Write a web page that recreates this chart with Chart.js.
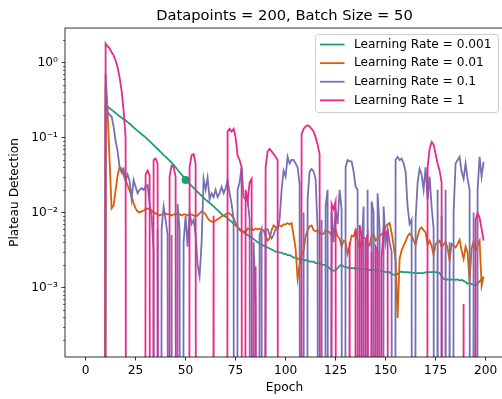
<!DOCTYPE html>
<html>
<head>
<meta charset="utf-8">
<script src="https://cdn.jsdelivr.net/npm/chart.js@4.4.1/dist/chart.umd.min.js"></script>
<style>
  html, body { margin: 0; padding: 0; background: #fff; overflow: hidden; }
  canvas { display: block; }
</style>
</head>
<body>
<canvas id="grafico" width="506" height="399"></canvas>
<script>
// epocas 0..199 (as 10 primeiras sao zero em todas as series)
const epocas = Array.from({length: 200}, (_, i) => i);

const lr0001 = [
  0, 0, 0, 0, 0, 0, 0, 0, 0, 0,
  0.270, 0.257, 0.245, 0.233, 0.222, 0.211, 0.201, 0.191, 0.182, 0.175,
  0.169, 0.160, 0.152, 0.144, 0.136, 0.129, 0.122, 0.116, 0.110, 0.105,
  0.100, 0.094, 0.089, 0.084, 0.079, 0.074, 0.070, 0.066, 0.062, 0.058,
  0.0555, 0.052, 0.049, 0.046, 0.043, 0.040, 0.037, 0.0345, 0.032, 0.0295,
  0.0270, 0.0255, 0.0240, 0.0226, 0.0212, 0.0199, 0.0187, 0.0176, 0.0166, 0.0157,
  0.0148, 0.0141, 0.0134, 0.0127, 0.0120, 0.0113, 0.0107, 0.0101, 0.0095, 0.0090,
  0.0088, 0.0084, 0.0079, 0.0075, 0.0071, 0.0067, 0.0063, 0.0060, 0.0057, 0.0054,
  0.0052, 0.0050, 0.0048, 0.0046, 0.0044, 0.0042, 0.0040, 0.0039, 0.0037, 0.0036,
  0.0035, 0.0034, 0.0033, 0.0032, 0.0031, 0.0030, 0.0030, 0.0029, 0.0029, 0.0028,
  0.0028, 0.0027, 0.0027, 0.0026, 0.0025, 0.0025, 0.0024, 0.0024, 0.0024, 0.0023,
  0.0023, 0.0023, 0.0022, 0.0022, 0.0022, 0.0021, 0.0021, 0.0021, 0.0020, 0.0020,
  0.0020, 0.0019, 0.0018, 0.0017, 0.00166, 0.0017, 0.0018, 0.00195, 0.0020, 0.0019,
  0.00185, 0.00185, 0.0018, 0.0018, 0.0018, 0.0018, 0.00178, 0.00176, 0.00175, 0.00175,
  0.00176, 0.00175, 0.0017, 0.0017, 0.0017, 0.0017, 0.00168, 0.00166, 0.00165, 0.00163,
  0.0016, 0.0016, 0.0016, 0.0015, 0.00148, 0.00146, 0.0015, 0.0016, 0.00162, 0.0016,
  0.0016, 0.0016, 0.00158, 0.00157, 0.00156, 0.00155, 0.00155, 0.00155, 0.00155, 0.00156,
  0.00158, 0.0016, 0.0016, 0.0016, 0.0016, 0.0016, 0.00158, 0.00155, 0.0014, 0.0013,
  0.00127, 0.00128, 0.00126, 0.00128, 0.00127, 0.00126, 0.00128, 0.00124, 0.00126, 0.00122,
  0.00118, 0.00112, 0.00115, 0.0011, 0.00108, 0.00106, 0.00112, 0.0012, 0.0013, 0.00137
];

const lr001 = [
  0, 0, 0, 0, 0, 0, 0, 0, 0, 0,
  0.49, 0.215, 0.049, 0.0113, 0.0124, 0.0196, 0.0311, 0.0398, 0.0386, 0.0311,
  0.0267, 0.0229, 0.0196, 0.0163, 0.0132, 0.0113, 0.0103, 0.0100, 0.0103, 0.0106,
  0.0110, 0.0113, 0.0110, 0.0106, 0.0100, 0.0097, 0.0094, 0.0091, 0.0094, 0.0094,
  0.0097, 0.0094, 0.0094, 0.0091, 0.0094, 0.0094, 0.0097, 0.0094, 0.0091, 0.0094,
  0.0094, 0.0091, 0.0094, 0.0094, 0.0091, 0.0089, 0.0091, 0.0097, 0.0103, 0.0100,
  0.0094, 0.0084, 0.0078, 0.0076, 0.0074, 0.0078, 0.0081, 0.0084, 0.0089, 0.0091,
  0.0094, 0.0097, 0.0097, 0.0091, 0.0084, 0.0072, 0.0063, 0.0058, 0.0056, 0.0056,
  0.0054, 0.0061, 0.0059, 0.0061, 0.0058, 0.0061, 0.0059, 0.0061, 0.0059, 0.0058,
  0.0049, 0.0042, 0.0045, 0.0058, 0.0067, 0.0063, 0.0065, 0.0067, 0.0065, 0.0069,
  0.0069, 0.0072, 0.0069, 0.0072, 0.0049, 0.0033, 0.0013, 0.0020, 0.0027, 0.0031,
  0.0048, 0.0058, 0.0065, 0.0067, 0.0058, 0.0056, 0.0058, 0.0054, 0.0051, 0.0052,
  0.0058, 0.0056, 0.0054, 0.0049, 0.0054, 0.0058, 0.0048, 0.0045, 0.0035, 0.0042,
  0.0040, 0.0028, 0.0036, 0.0049, 0.0048, 0.0058, 0.0042, 0.0033, 0.0042, 0.0046,
  0.0045, 0.0038, 0.0036, 0.0049, 0.0051, 0.0042, 0.0045, 0.0048, 0.0051, 0.0054,
  0.0065, 0.0069, 0.0072, 0.0054, 0.0036, 0.0023, 0.00039, 0.0024, 0.0031, 0.0036,
  0.0041, 0.0048, 0.0052, 0.0049, 0.0042, 0.0037, 0.0048, 0.0059, 0.0063, 0.0058,
  0.0054, 0.0037, 0.0042, 0.0036, 0.0027, 0.0038, 0.0040, 0.0042, 0.0035, 0.0037,
  0.0041, 0.0033, 0.0023, 0.0038, 0.0036, 0.0034, 0.0038, 0.0043, 0.0031, 0.0024,
  0.0035, 0.0029, 0.0012, 0.0033, 0.0041, 0.0031, 0.0036, 0.0042, 0.00105, 0.0014
];

const lr01 = [
  0, 0, 0, 0, 0, 0, 0, 0, 0, 0,
  0.7, 0.215, 0.2, 0.19, 0.14, 0.09, 0.065, 0.04, 0.034, 0.038,
  0.027, 0.032, 0.026, 0.015, 0.027, 0.022, 0.018, 0.02, 0.021, 0.02,
  0.022, 0.023, 0.013, 0.009, 0.003, 0, 0.006, 0, 0.006, 0.012,
  0.008, 0.005, 0, 0.005, 0, 0, 0.013, 0.006, 0, 0.004,
  0.009, 0.0035, 0.01, 0.007, 0.008, 0.005, 0.002, 0.0014, 0.004, 0.028,
  0.02, 0.029, 0.015, 0.018, 0.016, 0.02, 0.016, 0.018, 0.022, 0.018,
  0.021, 0.027, 0.018, 0.013, 0.008, 0, 0.02, 0.025, 0.04, 0.016,
  0.015, 0.015, 0.008, 0, 0.004, 0.0006, 0, 0.005, 0.006, 0,
  0.006, 0.006, 0.005, 0.0045, 0.005, 0.006, 0.006, 0.008, 0.02, 0.036,
  0.03, 0.055, 0.045, 0.05, 0.05, 0.045, 0.04, 0.024, 0, 0.01,
  0, 0.015, 0.035, 0.038, 0.035, 0.028, 0.006, 0, 0.008, 0,
  0.012, 0.02, 0, 0.01, 0.004, 0.011, 0.007, 0.02, 0.011, 0,
  0.04, 0.05, 0.048, 0.048, 0.035, 0.022, 0.02, 0, 0.003, 0.012,
  0, 0.02, 0, 0.014, 0.01, 0, 0.018, 0.006, 0, 0.012,
  0.004, 0.006, 0.004, 0.003, 0, 0.05, 0.055, 0.05, 0.052, 0.045,
  0.035, 0.012, 0.007, 0.008, 0, 0.008, 0.025, 0.038, 0.032, 0.02,
  0.04, 0.015, 0.03, 0.012, 0.006, 0, 0.02, 0, 0.009, 0,
  0.02, 0, 0.004, 0, 0.01, 0.045, 0.05, 0.055, 0.035, 0.028,
  0.045, 0.028, 0.02, 0, 0.01, 0, 0.02, 0.055, 0.03, 0.047
];

const lr1 = [
  0, 0, 0, 0, 0, 0, 0, 0, 0, 0,
  1.79, 1.63, 1.54, 1.36, 1.24, 1.06, 0.86, 0.63, 0.42, 0.23,
  0.10, 0, 0, 0, 0, 0, 0, 0, 0, 0,
  0.032, 0.036, 0.031, 0, 0.05, 0.052, 0.045, 0, 0, 0,
  0, 0, 0.03, 0.042, 0.04, 0.03, 0, 0, 0, 0,
  0, 0, 0.04, 0.058, 0.06, 0.045, 0, 0, 0, 0,
  0, 0, 0, 0, 0.009, 0, 0, 0, 0, 0,
  0, 0.12, 0.13, 0.12, 0.13, 0.1, 0.057, 0.05, 0.04, 0,
  0.02, 0.014, 0.025, 0.028, 0, 0.0019, 0, 0, 0, 0,
  0.04, 0.065, 0.07, 0.065, 0.06, 0.055, 0.05, 0, 0, 0,
  0, 0, 0, 0, 0, 0, 0, 0, 0.11, 0.13,
  0.14, 0.145, 0.14, 0.13, 0.12, 0.1, 0.08, 0.06, 0, 0,
  0, 0, 0, 0.013, 0.011, 0.014, 0, 0, 0, 0,
  0, 0, 0.004, 0, 0, 0.006, 0, 0.0068, 0.005, 0,
  0.004, 0.005, 0, 0.003, 0, 0.0035, 0.003, 0, 0.0025, 0.006,
  0.005, 0.0055, 0, 0, 0, 0, 0, 0, 0, 0,
  0, 0, 0, 0, 0, 0, 0, 0, 0, 0,
  0, 0.04, 0.07, 0.087, 0.08, 0.06, 0.045, 0.036, 0.025, 0,
  0, 0, 0, 0, 0, 0, 0, 0, 0, 0.0006,
  0, 0, 0, 0, 0, 0.008, 0.0098, 0.0085, 0.006, 0.0042
];

const rotulos = ['Learning Rate = 0.001', 'Learning Rate = 0.01', 'Learning Rate = 0.1', 'Learning Rate = 1'];
const cores = ['#1b9e77', '#d95f02', '#7570b3', '#e7298a'];
const valores = [lr0001, lr001, lr01, lr1];
const epocaMarcada = 50; // ponto destacado na curva verde

const xTicks = [0, 25, 50, 75, 100, 125, 150, 175, 200];
const yTicksMaiores = [1e-3, 1e-2, 1e-1, 1];
const yTicksMenores = [2e-4, 3e-4, 4e-4, 5e-4, 6e-4, 7e-4, 8e-4, 9e-4,
  2e-3, 3e-3, 4e-3, 5e-3, 6e-3, 7e-3, 8e-3, 9e-3,
  2e-2, 3e-2, 4e-2, 5e-2, 6e-2, 7e-2, 8e-2, 9e-2,
  0.2, 0.3, 0.4, 0.5, 0.6, 0.7, 0.8, 0.9, 2];

const FONTE = 'DejaVu Sans';
const ZERO = 1e-30; // zero no eixo log: a linha cai para fora do grafico

function potencia(v) {
  const sup = {'0': '⁰', '1': '¹', '2': '²', '3': '³', '4': '⁴', '5': '⁵', '6': '⁶', '7': '⁷', '8': '⁸', '9': '⁹', '-': '⁻'};
  const e = String(Math.round(Math.log10(v)));
  return '10' + e.split('').map(c => sup[c]).join('');
}

const datasets = valores.map((serie, i) => ({
  label: rotulos[i],
  data: epocas.map((e, j) => ({x: e, y: serie[j] > 0 ? serie[j] : ZERO})),
  borderColor: cores[i],
  backgroundColor: cores[i],
  borderWidth: 1.8,
  tension: 0,
  pointRadius: ctx => (i === 0 && ctx.raw && ctx.raw.x === epocaMarcada) ? 4 : 0,
  pointBorderWidth: 0,
  pointHoverRadius: 0,
  order: valores.length - i
}));

// moldura, ticks menores do eixo log e legenda
const extras = {
  id: 'extras',
  afterDraw(chart) {
    const ctx = chart.ctx;
    const a = chart.chartArea;
    const y = chart.scales.y;
    ctx.save();
    ctx.strokeStyle = '#000';
    ctx.lineWidth = 0.6;
    yTicksMenores.forEach(v => {
      const py = Math.round(y.getPixelForValue(v)) + 0.5;
      ctx.beginPath();
      ctx.moveTo(a.left - 2, py);
      ctx.lineTo(a.left, py);
      ctx.stroke();
    });
    ctx.lineWidth = 0.8;
    ctx.strokeRect(a.left, a.top, a.right - a.left, a.bottom - a.top);

    // legenda
    const fs = 12.2;
    const w = 183, h = 78;
    const lx = a.right - 6 - w, ly = a.top + 6;
    ctx.beginPath();
    ctx.roundRect(lx + 0.5, ly + 0.5, w, h, 3);
    ctx.fillStyle = 'rgba(255,255,255,0.8)';
    ctx.fill();
    ctx.strokeStyle = '#cccccc';
    ctx.lineWidth = 1;
    ctx.stroke();
    ctx.font = fs + 'px "' + FONTE + '"';
    ctx.textBaseline = 'middle';
    ctx.textAlign = 'left';
    rotulos.forEach((r, i) => {
      const cy = ly + 10.5 + i * 18.6;
      ctx.strokeStyle = cores[i];
      ctx.lineWidth = 1.8;
      ctx.beginPath();
      ctx.moveTo(lx + 5, cy);
      ctx.lineTo(lx + 29.5, cy);
      ctx.stroke();
      ctx.fillStyle = '#000';
      ctx.fillText(r, lx + 39, cy);
    });
    ctx.restore();
  }
};

new Chart(document.getElementById('grafico'), {
  type: 'line',
  data: { datasets: datasets },
  options: {
    responsive: false,
    animation: false,
    devicePixelRatio: 1,
    layout: { padding: { left: 0, right: 2, top: 0, bottom: 0 } },
    scales: {
      x: {
        type: 'linear',
        min: -10.3,
        max: 209.2,
        afterBuildTicks: s => { s.ticks = xTicks.map(v => ({value: v})); },
        afterFit: s => { s.height = 42; },
        ticks: {
          autoSkip: false, maxRotation: 0, padding: 3.5, color: '#000',
          font: { family: FONTE, size: 12.2 },
          callback: v => String(v)
        },
        grid: { drawOnChartArea: false, drawTicks: true, tickLength: 3.5, tickColor: '#000', tickWidth: 0.8 },
        border: { display: false },
        title: {
          display: true, text: 'Epoch', color: '#000',
          font: { family: FONTE, size: 12.2 },
          padding: { top: 0, bottom: 3.7 }
        }
      },
      y: {
        type: 'logarithmic',
        min: 1.18e-4,
        max: 2.87,
        afterBuildTicks: s => { s.ticks = yTicksMaiores.map(v => ({value: v, major: true})); },
        afterFit: s => { s.width = 65; },
        ticks: {
          autoSkip: false, padding: 3.5, color: '#000',
          font: { family: FONTE, size: 12.2 },
          major: { enabled: false },
          callback: v => potencia(v)
        },
        grid: { drawOnChartArea: false, drawTicks: true, tickLength: 3.5, tickColor: '#000', tickWidth: 0.8 },
        border: { display: false },
        title: {
          display: true, text: 'Plateau Detection', color: '#000',
          font: { family: FONTE, size: 12.2 },
          padding: { top: 7.7, bottom: 0 }
        }
      }
    },
    plugins: {
      title: {
        display: true,
        text: 'Datapoints = 200, Batch Size = 50',
        fullSize: false,
        color: '#000',
        font: { family: FONTE, size: 14.7, weight: 'normal' },
        padding: { top: 7, bottom: 3.4 }
      },
      legend: { display: false },
      tooltip: { enabled: false }
    }
  },
  plugins: [extras]
});
</script>
</body>
</html>
